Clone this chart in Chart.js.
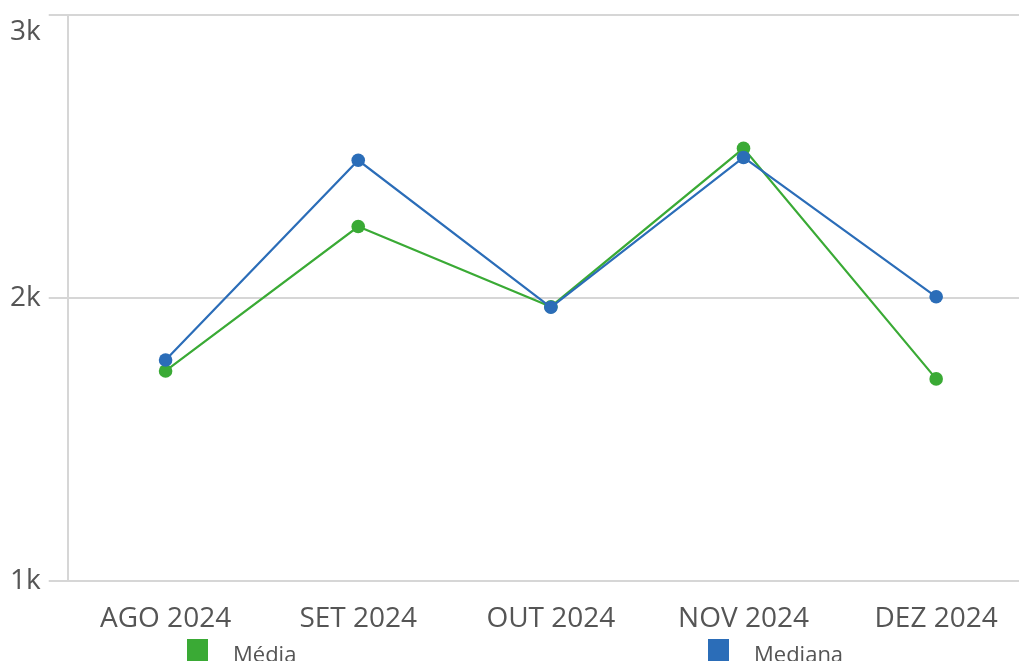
<!DOCTYPE html>
<html>
<head>
<meta charset="utf-8">
<script src="https://cdn.jsdelivr.net/npm/chart.js@4/dist/chart.umd.min.js"></script>
<style>
    html, body { margin: 0; padding: 0; background: #fff; overflow: hidden; }
    #wrap { width: 1019px; height: 661px; }
</style>
</head>
<body>
<div id="wrap"><canvas id="chart"></canvas></div>
<script>
// months on the x axis
const months = ['AGO 2024', 'SET 2024', 'OUT 2024', 'NOV 2024', 'DEZ 2024'];
// values
const media = [1743, 2253, 1970, 2529, 1715];
const mediana = [1782, 2487, 1968, 2497, 2005];
const yTicks = [1000, 2000, 3000];

const GREEN = '#3aaa35';
const BLUE = '#2b6db8';
const TEXT = '#555555';
const GRID = '#d6d6d6';

const toPoints = arr => arr.map((v, i) => ({ x: i, y: v }));

// simple legend spread along the bottom edge
const bottomLegend = {
    id: 'bottomLegend',
    afterDraw(chart) {
        const ctx = chart.ctx;
        const spots = [187, 708];
        ctx.save();
        ctx.font = '22px "Open Sans"';
        ctx.textBaseline = 'middle';
        ctx.textAlign = 'left';
        chart.data.datasets.forEach((ds, k) => {
            const x = spots[k];
            ctx.fillStyle = ds.borderColor;
            ctx.fillRect(x, 639, 21, 22);
            ctx.fillStyle = TEXT;
            ctx.fillText(ds.label, x + 46, 656);
        });
        ctx.restore();
    }
};

new Chart(document.getElementById('chart'), {
    type: 'line',
    data: {
        datasets: [
            {
                label: 'Média',
                data: toPoints(media),
                borderColor: GREEN,
                backgroundColor: GREEN,
                pointBackgroundColor: GREEN,
                borderWidth: 2.2,
                pointRadius: 6.8,
                pointBorderWidth: 0,
                tension: 0,
                order: 1,
            },
            {
                label: 'Mediana',
                data: toPoints(mediana),
                borderColor: BLUE,
                backgroundColor: BLUE,
                pointBackgroundColor: BLUE,
                borderWidth: 2.2,
                pointRadius: 6.8,
                pointBorderWidth: 0,
                tension: 0,
                order: 0,
            }
        ]
    },
    options: {
        responsive: true,
        maintainAspectRatio: false,
        animation: false,
        layout: {
            autoPadding: false,
            padding: { left: 2, right: 0, top: 15, bottom: 4 }
        },
        plugins: {
            legend: { display: false },
            tooltip: { enabled: false }
        },
        scales: {
            x: {
                type: 'linear',
                min: -0.508,
                max: 4.43,
                afterBuildTicks(scale) {
                    scale.ticks = months.map((m, i) => ({ value: i }));
                },
                afterFit(scale) {
                    scale.paddingLeft = 0;
                    scale.paddingRight = 0;
                },
                grid: { display: false, drawTicks: false },
                border: { display: false },
                ticks: {
                    padding: 21,
                    color: TEXT,
                    font: { family: 'Open Sans', size: 28 },
                    callback: v => months[v],
                    maxRotation: 0,
                    autoSkip: false,
                }
            },
            y: {
                min: 1000,
                max: 3000,
                afterBuildTicks(scale) {
                    scale.ticks = yTicks.map(v => ({ value: v }));
                },
                afterFit(scale) {
                    scale.paddingTop = 0;
                    scale.paddingBottom = 0;
                },
                grid: {
                    color: GRID,
                    lineWidth: 2,
                    tickLength: 19,
                },
                border: { display: true, color: GRID, width: 2 },
                ticks: {
                    padding: 8,
                    color: TEXT,
                    font: { family: 'Open Sans', size: 28 },
                    // top label sits just under the top line, like the original
                    callback: v => v === 3000 ? ['', (v / 1000) + 'k'] : (v / 1000) + 'k',
                }
            }
        }
    },
    plugins: [bottomLegend]
});
</script>
</body>
</html>
